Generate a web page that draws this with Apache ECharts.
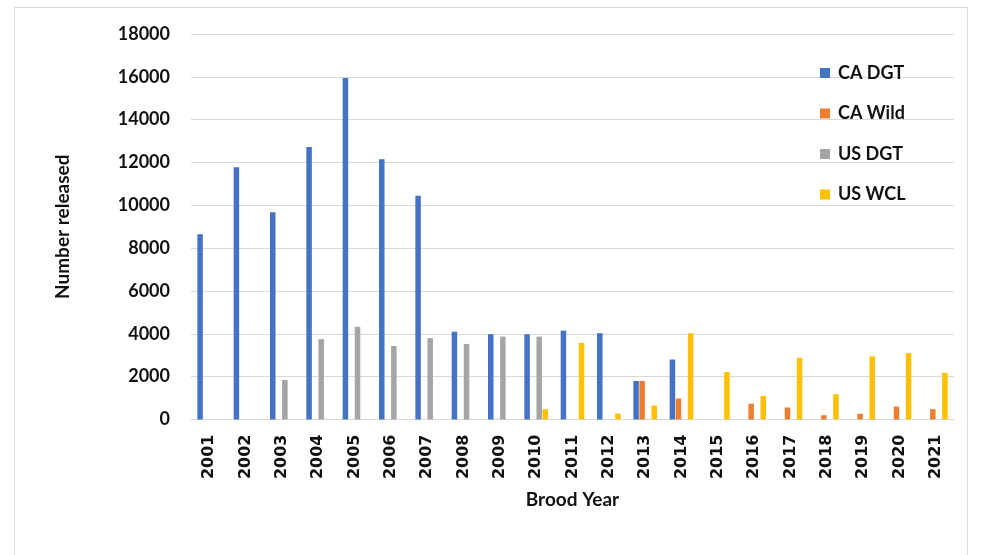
<!DOCTYPE html>
<html>
<head>
<meta charset="utf-8">
<script src="https://cdn.jsdelivr.net/npm/echarts@6/dist/echarts.min.js"></script>
<style>
  html, body { margin: 0; padding: 0; background: #fff; }
  #chart { width: 984px; height: 555px; }
</style>
</head>
<body>
<div id="chart"></div>
<script>
// Brood years on the category axis
const years = ['2001','2002','2003','2004','2005','2006','2007','2008','2009','2010','2011',
               '2012','2013','2014','2015','2016','2017','2018','2019','2020','2021'];

// Number released per brood year (null = no release)
const caDgt  = [8650, 11780, 9680, 12720, 15950, 12150, 10450, 4100, 3980, 3980, 4150,
                4030, 1800, 2800, null, null, null, null, null, null, null];
const caWild = [null, null, null, null, null, null, null, null, null, null, null,
                null, 1800, 980, null, 740, 560, 200, 270, 600, 480];
const usDgt  = [null, null, 1850, 3750, 4330, 3430, 3800, 3530, 3870, 3870, null,
                null, null, null, null, null, null, null, null, null, null];
const usWcl  = [null, null, null, null, null, null, null, null, null, 480, 3580,
                280, 650, 4030, 2220, 1100, 2880, 1180, 2950, 3100, 2180];

const seriesNames = ['CA DGT', 'CA Wild', 'US DGT', 'US WCL'];
const seriesData  = [caDgt, caWild, usDgt, usWcl];
const colors = ['#4472C4', '#ED7D31', '#A5A5A5', '#FFC000'];

const labelFont = 'Lato, "Open Sans", "Liberation Sans", sans-serif';

const chart = echarts.init(document.getElementById('chart'), null, { renderer: 'canvas' });

chart.setOption({
  animation: false,
  backgroundColor: '#ffffff',
  color: colors,
  graphic: [{
    type: 'rect',
    shape: { x: 14.5, y: 7.5, width: 953, height: 560 },
    style: { fill: 'none', stroke: '#d9d9d9', lineWidth: 1 },
    z: -1
  }],
  grid: { left: 191, right: 30, top: 34, bottom: 135.5 },
  legend: {
    orient: 'vertical',
    left: 815,
    top: 58,
    itemWidth: 10,
    itemHeight: 10,
    itemGap: 20.5,
    icon: 'rect',
    data: seriesNames,
    textStyle: {
      fontFamily: labelFont, fontWeight: 'bold', fontSize: 18, color: '#111',
      lineHeight: 20, padding: [0, 0, 0, 3]
    }
  },
  xAxis: {
    type: 'category',
    data: years,
    name: 'Brood Year',
    nameLocation: 'middle',
    nameGap: 71,
    nameTextStyle: { fontFamily: labelFont, fontWeight: 'bold', fontSize: 19, color: '#111' },
    axisLine: { lineStyle: { color: '#d9d9d9', width: 1 } },
    axisTick: { show: false },
    axisLabel: {
      rotate: 90, margin: 15, interval: 0,
      fontFamily: '"DejaVu Sans", sans-serif', fontWeight: 'bold', fontSize: 16, color: '#111'
    }
  },
  yAxis: {
    type: 'value',
    min: 0, max: 18000, interval: 2000,
    name: 'Number released',
    nameLocation: 'middle',
    nameGap: 119,
    nameRotate: 90,
    nameTextStyle: { fontFamily: labelFont, fontWeight: 'bold', fontSize: 19, color: '#111' },
    axisLine: { show: false },
    axisTick: { show: false },
    splitLine: { lineStyle: { color: '#d9d9d9', width: 1 } },
    axisLabel: {
      margin: 21, fontFamily: labelFont, fontWeight: 'bold', fontSize: 18, color: '#111',
      formatter: v => String(v)
    }
  },
  series: seriesNames.map((name, i) => ({
    name,
    type: 'bar',
    data: seriesData[i],
    barWidth: 5.5,
    barGap: '10%',
    itemStyle: { color: colors[i] }
  }))
});
</script>
</body>
</html>
